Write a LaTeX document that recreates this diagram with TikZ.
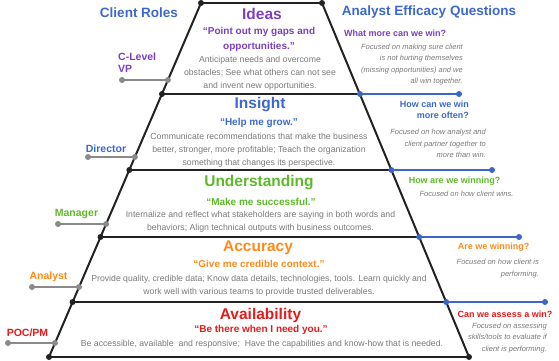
\documentclass[tikz,border=0pt]{standalone}
\usepackage{fontspec}
\setmainfont{Liberation Sans}
\definecolor{color1}{HTML}{7B3FBF}
\definecolor{color2}{HTML}{3C68CD}
\definecolor{color3}{HTML}{5DB82A}
\definecolor{color4}{HTML}{FF8A1C}
\definecolor{color5}{HTML}{E31B1B}
\definecolor{linkgray}{HTML}{8A8A8A}
\definecolor{textgray}{HTML}{7A7A7A}
\definecolor{linkblue}{HTML}{3D66C9}
\definecolor{rimblack}{HTML}{222222}
\usetikzlibrary{backgrounds}

\begin{document}
\begin{tikzpicture}[
  x=1pt, y=-1pt,
  colhead/.style={font=\fontsize{13.5}{16}\selectfont\bfseries, text=color2, inner sep=0pt},
  tier/.style   ={font=\fontsize{15.5}{18}\selectfont\bfseries, inner sep=0pt},
  saying/.style ={font=\fontsize{10}{15}\selectfont\bfseries, align=center, inner sep=0pt},
  desc/.style   ={font=\fontsize{8.7}{13}\selectfont, text=textgray, align=center, inner sep=0pt},
  role/.style   ={font=\fontsize{10.5}{12}\selectfont\bfseries, align=left, inner sep=0pt},
  ask/.style    ={font=\fontsize{9}{10.5}\selectfont\bfseries, align=right, inner sep=0pt},
  note/.style   ={font=\fontsize{7.5}{11.5}\selectfont\itshape, text=textgray, align=right, inner sep=0pt},
  knot/.style   ={circle, fill=rimblack, inner sep=0pt, minimum size=6pt},
  gknot/.style  ={circle, fill=linkgray, inner sep=0pt, minimum size=6pt},
  bknot/.style  ={circle, fill=linkblue, inner sep=0pt, minimum size=6pt},
  rim/.style    ={draw=rimblack, line width=2pt},
  rolelink/.style={draw=linkgray, line width=1.7pt},
  asklink/.style ={draw=linkblue, line width=1.7pt},
]
  \useasboundingbox (0,0) rectangle (559,360);

  % ---- corners of the stack ----
  \node[knot]  (L0) at (201,3)     {};
  \node[knot]  (R0) at (322,3)     {};
  \node[knot]  (L1) at (162,94)    {};
  \node[bknot] (R1) at (360,94)    {};
  \node[knot]  (L2) at (129.3,170) {};
  \node[bknot] (R2) at (391.4,170) {};
  \node[knot]  (L3) at (100.5,237) {};
  \node[bknot] (R3) at (419.2,237) {};
  \node[knot]  (L4) at (72.6,302)  {};
  \node[bknot] (R4) at (446.2,302) {};
  \node[knot]  (L5) at (49,357)    {};
  \node[knot]  (R5) at (469,357)   {};

  % ---- question ends (right) ----
  \node[bknot] (Q1) at (459,94)  {};
  \node[bknot] (Q2) at (492,170) {};
  \node[bknot] (Q3) at (519,237) {};
  \node[bknot] (Q4) at (545,302) {};

  % ---- role ends (left) ----
  \node[gknot] (vpA)  at (122,80)    {};
  \node[gknot] (vpB)  at (167.9,80)  {};
  \node[gknot] (dirA) at (88,157)    {};
  \node[gknot] (dirB) at (134.9,157) {};
  \node[gknot] (mgrA) at (58,224)    {};
  \node[gknot] (mgrB) at (106.1,224) {};
  \node[gknot] (anaA) at (32,287)    {};
  \node[gknot] (anaB) at (79,287)    {};
  \node[gknot] (pocA) at (8,343)     {};
  \node[gknot] (pocB) at (55,343)    {};

  % ---- lines behind the knots ----
  \begin{scope}[on background layer]
    \draw[rim] (L0.center) -- (L5.center);
    \draw[rim] (R0.center) -- (R5.center);
    \draw[rim] (L0.center) -- (R0.center);
    \draw[rim] (L1.center) -- (R1.center);
    \draw[rim] (L2.center) -- (R2.center);
    \draw[rim] (L3.center) -- (R3.center);
    \draw[rim] (L4.center) -- (R4.center);
    \draw[rim] (L5.center) -- (R5.center);
    \draw[asklink] (R1.center) -- (Q1.center);
    \draw[asklink] (R2.center) -- (Q2.center);
    \draw[asklink] (R3.center) -- (Q3.center);
    \draw[asklink] (R4.center) -- (Q4.center);
    \draw[rolelink] (vpA.center)  -- (vpB.center);
    \draw[rolelink] (dirA.center) -- (dirB.center);
    \draw[rolelink] (mgrA.center) -- (mgrB.center);
    \draw[rolelink] (anaA.center) -- (anaB.center);
    \draw[rolelink] (pocA.center) -- (pocB.center);
  \end{scope}

  % ---- column headings ----
  \node[colhead] (hroles) at (139,13) {Client Roles};
  \node[colhead] (hasks)  at (429,12) {Analyst Efficacy Questions};

  % ---- Ideas ----
  \node[tier, text=color1]   (ideas)  at (262,14)   {Ideas};
  \node[saying, text=color1] (ideasq) at (259,39.5) {“Point out my gaps and\\opportunities.”};
  \node[desc]                (ideasd) at (260,73.5) {Anticipate needs and overcome\\obstacles; See what others can not see\\and invent new opportunities.};

  % ---- Insight ----
  \node[tier, text=color2]   (ins)  at (260,105)   {Insight};
  \node[saying, text=color2] (insq) at (259,123)   {“Help me grow.”};
  \node[desc]                (insd) at (259,150.5) {Communicate recommendations that make the business\\better, stronger, more profitable; Teach the organization\\something that changes its perspective.};

  % ---- Understanding ----
  \node[tier, text=color3]   (und)  at (259,183)   {Understanding};
  \node[saying, text=color3] (undq) at (261,202)   {“Make me successful.”};
  \node[desc]                (undd) at (260.5,221.5) {Internalize and reflect what stakeholders are saying in both words and\\behaviors; Align technical outputs with business outcomes.};

  % ---- Accuracy ----
  \node[tier, text=color4]   (acc)  at (258,248)   {Accuracy};
  \node[saying, text=color4] (accq) at (259,264)   {“Give me credible context.”};
  \node[desc]                (accd) at (259,285.5) {Provide quality, credible data; Know data details, technologies, tools. Learn quickly and\\work well with various teams to provide trusted deliverables.};

  % ---- Availability ----
  \node[tier, text=color5]   (ava)  at (260.5,315) {Availability};
  \node[saying, text=color5] (avaq) at (261,330)   {“Be there when I need you.”};
  \node[desc]                (avad) at (262,344)   {Be accessible, available\ \ and responsive;\ \ Have the capabilities and know-how that is needed.};

  % ---- client roles ----
  \node[role, text=color1, anchor=west] (vp)  at (118,63) {C-Level\\VP};
  \node[role, text=color2] (dir) at (106,149)  {Director};
  \node[role, text=color3] (mgr) at (76.5,214) {Manager};
  \node[role, text=color4] (ana) at (48.5,277) {Analyst};
  \node[role, text=color5] (poc) at (27.5,333) {POC/PM};

  % ---- analyst questions ----
  \node[ask, text=color1, anchor=west] (ask1) at (344,33) {What more can we win?};
  \node[note, anchor=east] (note1) at (463,64.5) {Focused on making sure client\\is not hurting themselves\\(missing opportunities) and we\\all win together.};
  \node[ask, text=color2, anchor=east] (ask2) at (469,110) {How can we win\\more often?};
  \node[note, anchor=east] (note2) at (486,143.5) {Focused on how analyst and\\client partner together to\\more than win.};
  \node[ask, text=color3] (ask3) at (454.5,181) {How are we winning?};
  \node[note] (note3) at (466.5,194) {Focused on how client wins.};
  \node[ask, text=color4] (ask4) at (493.5,247) {Are we winning?};
  \node[note, anchor=east] (note4) at (539,268.5) {Focused on how client is\\performing.};
  \node[ask, text=color5] (ask5) at (505,314) {Can we assess a win?};
  \node[note, anchor=east] (note5) at (547,338) {Focused on assessing\\skills/tools to evaluate if\\client is performing.};
\end{tikzpicture}
\end{document}
